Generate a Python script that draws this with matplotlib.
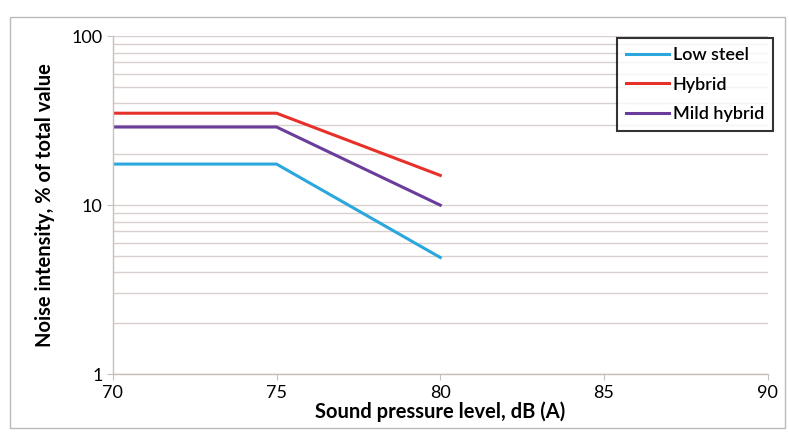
import matplotlib
matplotlib.use('Agg')
import matplotlib.pyplot as plt
from matplotlib.patches import Rectangle
from matplotlib.ticker import NullFormatter

# data
spl = [70, 75, 80]
low_steel = [17.5, 17.5, 4.9]
hybrid = [35, 35, 15]
mild_hybrid = [29, 29, 10]
x_ticks = [70, 75, 80, 85, 90]
y_ticks = [1, 10, 100]

plt.rcParams['font.family'] = ['Lato', 'DejaVu Sans']

fig = plt.figure(figsize=(7.89, 4.36), dpi=100)
ax = fig.add_axes([0.143, 0.142, 0.830, 0.775])

ax.plot(spl, low_steel, color='#2aa7dc', linewidth=2.2, label='Low steel')
ax.plot(spl, hybrid, color='#e8302a', linewidth=2.2, label='Hybrid')
ax.plot(spl, mild_hybrid, color='#6a3d9a', linewidth=2.2, label='Mild hybrid')

ax.set_yscale('log')
ax.set_ylim(1, 100)
ax.set_xlim(70, 90)
ax.set_xticks(x_ticks)
ax.set_xticklabels([str(t) for t in x_ticks])
ax.set_yticks(y_ticks)
ax.set_yticklabels([str(t) for t in y_ticks])
ax.yaxis.set_minor_formatter(NullFormatter())

ax.grid(True, which='both', axis='y', color='#d8d0cc', linewidth=1.0)
ax.set_axisbelow(True)
for s in ['top', 'right']:
    ax.spines[s].set_visible(False)
for s in ['left', 'bottom']:
    ax.spines[s].set_color('#c8c0bc')
    ax.spines[s].set_linewidth(1.0)
ax.tick_params(axis='both', which='both', length=4, color='#c8c0bc', labelsize=13)
ax.tick_params(axis='y', which='minor', length=0)

ax.set_xlabel('Sound pressure level, dB (A)', fontsize=14.5, fontweight='bold', labelpad=1)
ax.set_ylabel('Noise intensity, % of total value', fontsize=14.5, fontweight='bold', labelpad=12)

leg = ax.legend(loc='upper right', bbox_to_anchor=(1.008, 0.994), fontsize=13,
                frameon=True, fancybox=False, handlelength=2.4, handletextpad=0.2,
                borderpad=0.5, labelspacing=0.75, borderaxespad=0)
leg.get_frame().set_edgecolor('black')
leg.get_frame().set_linewidth(1.5)
for t in leg.get_texts():
    t.set_fontweight('semibold')

fig.patches.append(Rectangle((0.013, 0.018), 0.982, 0.942, transform=fig.transFigure,
                             fill=False, edgecolor='#bbbbbb', linewidth=1.0))

fig.savefig('out.png', dpi=100)
